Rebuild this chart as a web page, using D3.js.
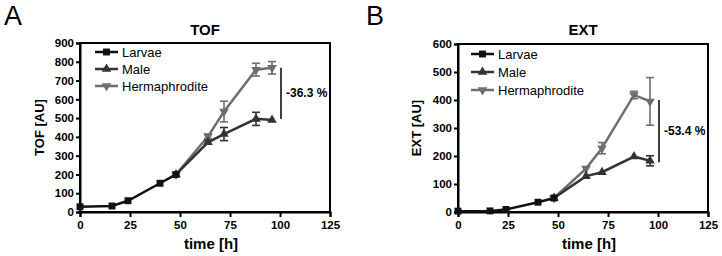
<!DOCTYPE html>
<html><head><meta charset="utf-8">
<script src="https://cdn.jsdelivr.net/npm/d3@7"></script>
<style>body{margin:0;background:#fff}svg{display:block}</style>
</head><body>
<svg id="c" width="722" height="256"></svg>
<script>
const seriesNames = ["Larvae", "Male", "Hermaphrodite"];
const seriesColors = ["#111111", "#333333", "#6e6e6e"];
const xTicks = [0, 25, 50, 75, 100, 125];

// Panel A: TOF
const tofLarvaeT = [0, 16, 24, 40, 48];
const tofLarvae = [28, 32, 60, 153, 200];
const tofLarvaeErr = [0, 0, 0, 0, 0];
const tofMaleT = [48, 64, 72, 88, 96];
const tofMale = [200, 371, 415, 496, 490];
const tofMaleErr = [0, 10, 35, 35, 0];
const tofHermT = [48, 64, 72, 88, 96];
const tofHerm = [200, 403, 535, 758, 768];
const tofHermErr = [0, 12, 55, 34, 33];
const tofTicks = [0, 100, 200, 300, 400, 500, 600, 700, 800, 900];

// Panel B: EXT
const extLarvaeT = [0, 16, 24, 40, 48];
const extLarvae = [3, 4, 9, 35, 50];
const extLarvaeErr = [0, 0, 0, 0, 0];
const extMaleT = [48, 64, 72, 88, 96];
const extMale = [50, 128, 142, 198, 183];
const extMaleErr = [0, 0, 0, 0, 18];
const extHermT = [48, 64, 72, 88, 96];
const extHerm = [50, 155, 228, 418, 395];
const extHermErr = [0, 0, 20, 13, 85];
const extTicks = [0, 100, 200, 300, 400, 500, 600];

const svg = d3.select("#c");
const FONT = "'Liberation Sans', Arial, sans-serif";

function panel(o) {
  const x = d3.scaleLinear().domain([0, 125]).range([o.left, o.right]);
  const y = d3.scaleLinear().domain([0, o.ymax]).range([o.bottom, o.top]);
  const g = svg.append("g");

  g.append("text").attr("x", o.letterX).attr("y", 25).text(o.letter)
    .attr("font-family", FONT).attr("font-size", 27).attr("fill", "#000");
  g.append("text").attr("x", (o.left + o.right) / 2).attr("y", 35).attr("text-anchor", "middle")
    .text(o.title).attr("font-family", FONT).attr("font-weight", "bold").attr("font-size", 15);

  g.append("rect").attr("x", o.left).attr("y", o.top).attr("width", o.right - o.left)
    .attr("height", o.bottom - o.top).attr("fill", "none").attr("stroke", "#000").attr("stroke-width", 2);

  const xa = g.append("g").attr("transform", `translate(0,${o.bottom})`)
    .call(d3.axisBottom(x).tickValues(xTicks).tickSize(5).tickPadding(4).tickFormat(d3.format("d")));
  const ya = g.append("g").attr("transform", `translate(${o.left},0)`)
    .call(d3.axisLeft(y).tickValues(o.ticks).tickSize(4).tickPadding(2).tickFormat(d3.format("d")));
  [xa, ya].forEach(a => {
    a.select(".domain").attr("stroke-width", 2);
    a.selectAll(".tick line").attr("stroke-width", 2);
    a.selectAll("text").attr("font-family", FONT).attr("font-weight", "bold").attr("font-size", 11.5).attr("fill", "#000");
  });

  g.append("text").attr("x", (o.left + o.right) / 2 + 6).attr("y", 249).attr("text-anchor", "middle")
    .text("time [h]").attr("font-family", FONT).attr("font-weight", "bold").attr("font-size", 15);
  g.append("text").attr("transform", `translate(${o.ylabX},${(o.top + o.bottom) / 2}) rotate(-90)`)
    .attr("text-anchor", "middle").text(o.ylab)
    .attr("font-family", FONT).attr("font-weight", "bold").attr("font-size", 13);

  const line = d3.line().x(d => x(d.t)).y(d => y(d.v));
  const symbols = [d3.symbolSquare, d3.symbolTriangle, d3.symbolTriangle];
  const rot = [0, 0, 180];
  const sizes = [48, 40, 40];
  [2, 1, 0].forEach(i => {
    const s = o.series[i];
    const pts = s.t.map((t, k) => ({ t, v: s.v[k], e: s.e[k] }));
    const c = seriesColors[i];
    pts.filter(p => p.e > 0).forEach(p => {
      const cx = x(p.t);
      g.append("line").attr("x1", cx).attr("x2", cx).attr("y1", y(p.v - p.e)).attr("y2", y(p.v + p.e))
        .attr("stroke", c).attr("stroke-width", 1.6);
      [p.v - p.e, p.v + p.e].forEach(v => g.append("line").attr("x1", cx - 4).attr("x2", cx + 4)
        .attr("y1", y(v)).attr("y2", y(v)).attr("stroke", c).attr("stroke-width", 1.6));
    });
    g.append("path").datum(pts).attr("d", line).attr("fill", "none").attr("stroke", c).attr("stroke-width", 2.5);
    pts.forEach(p => g.append("path").attr("d", d3.symbol().type(symbols[i]).size(sizes[i])())
      .attr("transform", `translate(${x(p.t)},${y(p.v)}) rotate(${rot[i]})`).attr("fill", c));
  });

  seriesNames.forEach((n, i) => {
    const ly = o.legY[i];
    g.append("line").attr("x1", o.legX).attr("x2", o.legX + 23).attr("y1", ly).attr("y2", ly)
      .attr("stroke", seriesColors[i]).attr("stroke-width", 2.5);
    g.append("path").attr("d", d3.symbol().type(symbols[i]).size(sizes[i])())
      .attr("transform", `translate(${o.legX + 11.5},${ly}) rotate(${rot[i]})`).attr("fill", seriesColors[i]);
    g.append("text").attr("x", o.legX + 27).attr("y", ly + 4.5).text(n)
      .attr("font-family", FONT).attr("font-size", 13).attr("fill", "#000");
  });

  g.append("line").attr("x1", x(o.ann.t)).attr("x2", x(o.ann.t)).attr("y1", y(o.ann.hi)).attr("y2", y(o.ann.lo))
    .attr("stroke", "#000").attr("stroke-width", 1.5);
  g.append("text").attr("x", x(o.ann.t) + 5).attr("y", y((o.ann.hi + o.ann.lo) / 2) + 4).text(o.ann.text)
    .attr("font-family", FONT).attr("font-weight", "bold").attr("font-size", 12);
}

panel({
  letter: "A", letterX: 4, title: "TOF", ylab: "TOF [AU]", ylabX: 44,
  left: 80, right: 330, top: 43, bottom: 212, ymax: 900, ticks: tofTicks,
  series: [
    { t: tofLarvaeT, v: tofLarvae, e: tofLarvaeErr },
    { t: tofMaleT, v: tofMale, e: tofMaleErr },
    { t: tofHermT, v: tofHerm, e: tofHermErr }
  ],
  legX: 95, legY: [52, 69, 86],
  ann: { t: 100.5, hi: 768, lo: 495, text: "-36.3 %" }
});

panel({
  letter: "B", letterX: 366, title: "EXT", ylab: "EXT [AU]", ylabX: 421,
  left: 458, right: 708, top: 44, bottom: 212, ymax: 600, ticks: extTicks,
  series: [
    { t: extLarvaeT, v: extLarvae, e: extLarvaeErr },
    { t: extMaleT, v: extMale, e: extMaleErr },
    { t: extHermT, v: extHerm, e: extHermErr }
  ],
  legX: 471, legY: [54, 72, 90],
  ann: { t: 100.5, hi: 400, lo: 178, text: "-53.4 %" }
});
</script>
</body></html>
